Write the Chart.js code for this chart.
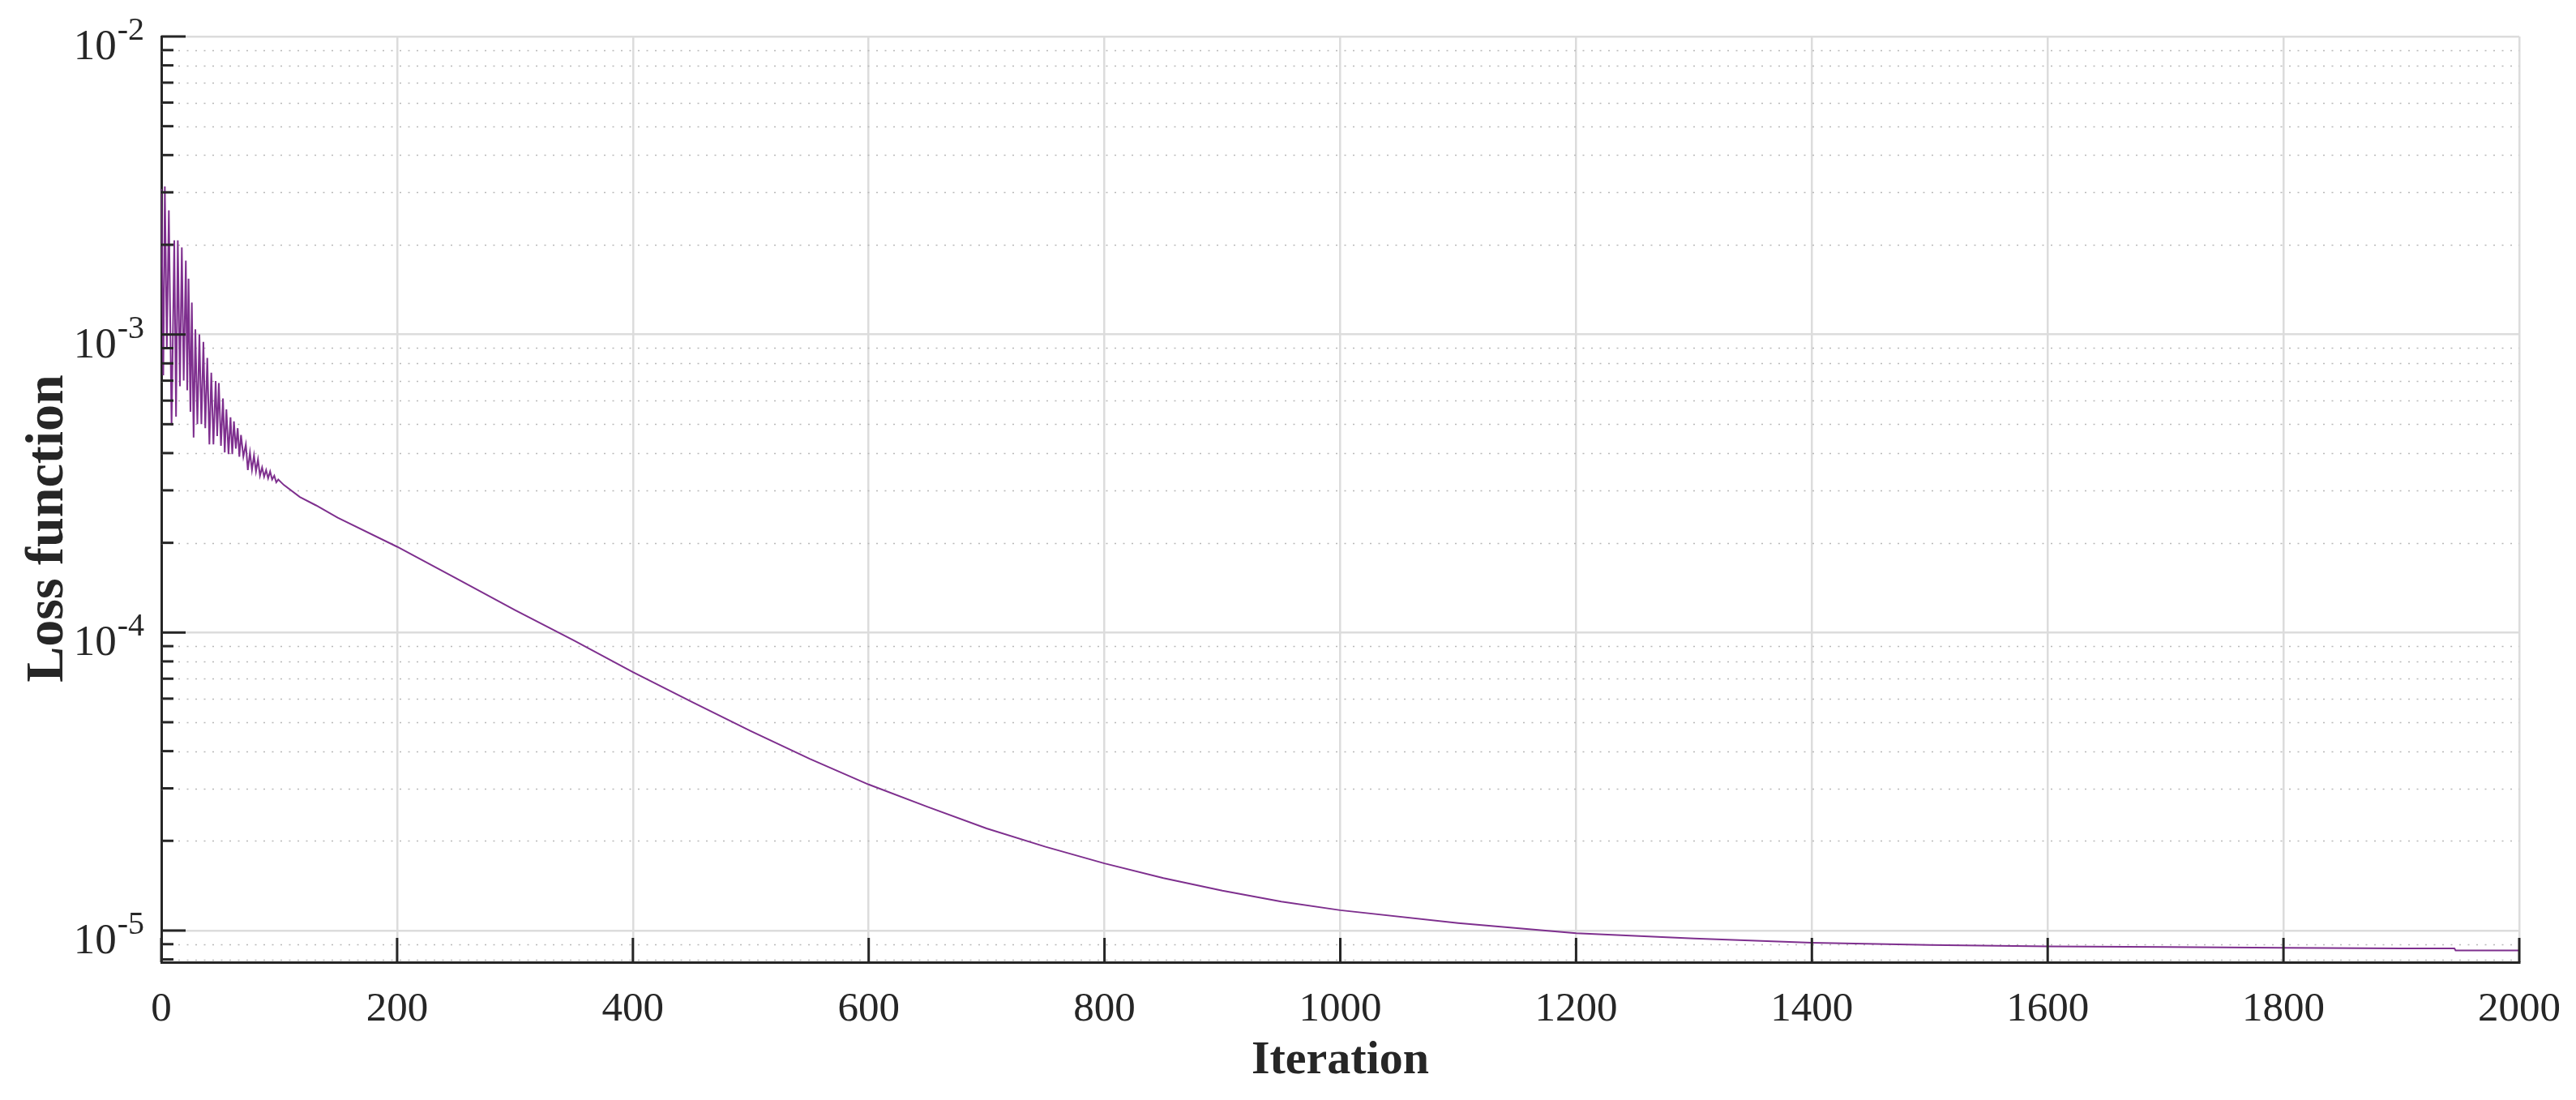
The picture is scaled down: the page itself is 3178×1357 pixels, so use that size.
<!DOCTYPE html>
<html>
<head>
<meta charset="utf-8">
<script src="https://cdn.jsdelivr.net/npm/chart.js@4.4.1/dist/chart.umd.min.js"></script>
<style>
  html, body { margin: 0; padding: 0; background: #fff; }
  #wrap { width: 3178px; height: 1357px; position: relative; }
</style>
</head>
<body>
<div id="wrap"><canvas id="lossChart"></canvas></div>
<script>
// iteration numbers (dense part = oscillation peaks / troughs)
const iterations = [
  0, 1.7, 3.0, 4.7, 6.4, 8.7, 11.0, 12.5, 14.0, 15.8, 17.4, 19.0, 20.8, 22.0, 23.1, 24.7,
  25.9, 27.4, 28.9, 30.6, 32.3, 34.0, 35.7, 37.3, 39.0, 40.8, 42.4, 44.2, 46.1, 47.4, 48.8,
  50.6, 52.3, 53.8, 55.2, 57.0, 58.7, 60.2, 61.6, 63.2, 64.8, 66.2, 67.6, 69.6, 71.7, 73.4,
  75.2, 76.9, 78.6, 80.3, 82.0, 83.7, 85.5, 87.2, 88.9, 90.6, 92.3, 94.0, 95.8, 97.5, 99.2,
  103.8, 117.5, 131.3, 149.6, 200, 250, 300, 350, 400, 450, 500, 550, 600, 650, 700, 750,
  800, 850, 900, 950, 1000, 1100, 1200, 1300, 1400, 1500, 1600, 1700, 1800, 1900, 1945, 1946, 2000
];
const lossValues = [
  3.08e-3, 7.3e-4, 3.14e-3, 9.0e-4, 2.61e-3, 4.95e-4, 2.07e-3, 5.3e-4, 2.07e-3, 6.7e-4, 1.96e-3,
  7.0e-4, 1.77e-3, 6.5e-4, 1.54e-3, 5.5e-4, 1.28e-3, 4.51e-4, 1.04e-3, 5.0e-4, 1.00e-3, 5.0e-4,
  9.45e-4, 4.85e-4, 8.34e-4, 4.28e-4, 7.44e-4, 4.28e-4, 6.98e-4, 4.56e-4, 6.87e-4, 4.23e-4,
  6.10e-4, 4.02e-4, 5.61e-4, 3.97e-4, 5.27e-4, 3.97e-4, 5.11e-4, 4.14e-4, 4.85e-4, 3.89e-4,
  4.60e-4, 3.89e-4, 4.28e-4, 3.51e-4, 4.02e-4, 3.51e-4, 3.93e-4, 3.47e-4, 3.81e-4, 3.36e-4,
  3.58e-4, 3.33e-4, 3.51e-4, 3.29e-4, 3.47e-4, 3.26e-4, 3.36e-4, 3.19e-4, 3.26e-4,
  3.13e-4, 2.85e-4, 2.67e-4, 2.43e-4, 1.94e-4, 1.52e-4, 1.19e-4, 9.4e-5, 7.36e-5, 5.85e-5,
  4.67e-5, 3.77e-5, 3.09e-5, 2.60e-5, 2.20e-5, 1.91e-5, 1.68e-5, 1.50e-5, 1.36e-5, 1.25e-5,
  1.17e-5, 1.06e-5, 9.8e-6, 9.4e-6, 9.1e-6, 8.95e-6, 8.85e-6, 8.8e-6, 8.75e-6, 8.71e-6,
  8.71e-6, 8.57e-6, 8.57e-6
];

const xTicks = [0, 200, 400, 600, 800, 1000, 1200, 1400, 1600, 1800, 2000];
const yMajorTicks = [1e-5, 1e-4, 1e-3, 1e-2];
const yMajorExponents = ['-5', '-4', '-3', '-2'];
const yMinorTicks = [
  8e-6, 9e-6,
  2e-5, 3e-5, 4e-5, 5e-5, 6e-5, 7e-5, 8e-5, 9e-5,
  2e-4, 3e-4, 4e-4, 5e-4, 6e-4, 7e-4, 8e-4, 9e-4,
  2e-3, 3e-3, 4e-3, 5e-3, 6e-3, 7e-3, 8e-3, 9e-3
];
const yMin = 7.83e-6;
const yMax = 1e-2;
const yTitle = 'Loss function';

const axisColor = '#262626';
const serif = "'Liberation Serif', 'Times New Roman', serif";

// minor dotted grid, inward ticks, 10^n labels and the y title
const axesDecor = {
  id: 'axesDecor',
  beforeDatasetsDraw(chart) {
    const { ctx, chartArea: a, scales: { y } } = chart;
    ctx.save();
    ctx.strokeStyle = '#b8b8b8';
    ctx.lineWidth = 1.6;
    ctx.setLineDash([2, 8.5]);
    yMinorTicks.forEach(v => {
      const py = Math.round(y.getPixelForValue(v)) + 0.5;
      ctx.beginPath();
      ctx.moveTo(a.left, py);
      ctx.lineTo(a.right, py);
      ctx.stroke();
    });
    ctx.restore();
  },
  afterDatasetsDraw(chart) {
    const { ctx, chartArea: a, scales: { x, y } } = chart;
    ctx.save();
    ctx.strokeStyle = axisColor;
    ctx.lineWidth = 3;
    yMajorTicks.forEach(v => {
      const py = y.getPixelForValue(v);
      ctx.beginPath(); ctx.moveTo(a.left, py); ctx.lineTo(a.left + 30, py); ctx.stroke();
    });
    yMinorTicks.forEach(v => {
      const py = y.getPixelForValue(v);
      ctx.beginPath(); ctx.moveTo(a.left, py); ctx.lineTo(a.left + 15, py); ctx.stroke();
    });
    xTicks.forEach(v => {
      const px = x.getPixelForValue(v);
      ctx.beginPath(); ctx.moveTo(px, a.bottom); ctx.lineTo(px, a.bottom - 30); ctx.stroke();
    });

    // y tick labels: 10 with a raised exponent
    ctx.fillStyle = axisColor;
    ctx.textBaseline = 'alphabetic';
    const rightEdge = a.left - 21;
    yMajorTicks.forEach((v, i) => {
      const py = y.getPixelForValue(v);
      ctx.font = '40px ' + serif;
      const supW = ctx.measureText(yMajorExponents[i]).width;
      ctx.textAlign = 'left';
      ctx.fillText(yMajorExponents[i], rightEdge - supW, py + 4);
      ctx.font = '53px ' + serif;
      ctx.textAlign = 'right';
      ctx.fillText('10', rightEdge - supW - 1, py + 28);
    });

    // y title, rotated
    ctx.translate(77, (a.top + a.bottom) / 2 + 36);
    ctx.rotate(-Math.PI / 2);
    ctx.font = 'bold 66px ' + serif;
    ctx.textAlign = 'center';
    ctx.fillText(yTitle, 0, 0);
    ctx.restore();
  }
};

const ctx = document.getElementById('lossChart').getContext('2d');
const lossChart = new Chart(ctx, {
  type: 'line',
  data: {
    datasets: [{
      label: yTitle,
      data: iterations.map((it, i) => ({ x: it, y: lossValues[i] })),
      borderColor: '#7E2F8E',
      borderWidth: 2,
      pointRadius: 0,
      tension: 0,
      fill: false
    }]
  },
  options: {
    responsive: true,
    maintainAspectRatio: false,
    devicePixelRatio: 1,
    animation: false,
    layout: { padding: { left: 0, top: 45, right: 70, bottom: 0 } },
    plugins: { legend: { display: false }, tooltip: { enabled: false } },
    scales: {
      x: {
        type: 'linear',
        min: 0,
        max: 2000,
        afterBuildTicks: scale => { scale.ticks = xTicks.map(v => ({ value: v })); },
        afterFit: scale => {
          scale.height = 170;
          scale.paddingLeft = 0;
          scale.paddingRight = 0;
        },
        grid: { color: '#dcdcdc', lineWidth: 2.5, drawTicks: false },
        border: { color: axisColor, width: 3 },
        ticks: {
          color: axisColor,
          font: { family: serif, size: 51 },
          padding: 28,
          maxRotation: 0,
          autoSkip: false,
          callback: v => String(v)
        },
        title: {
          display: true,
          text: 'Iteration',
          color: axisColor,
          font: { family: serif, size: 58, weight: 'bold' },
          padding: { top: 0, bottom: 13 }
        }
      },
      y: {
        type: 'logarithmic',
        min: yMin,
        max: yMax,
        afterBuildTicks: scale => { scale.ticks = yMajorTicks.map(v => ({ value: v })); },
        afterFit: scale => { scale.width = 199; },
        grid: { color: '#dcdcdc', lineWidth: 2.5, drawTicks: false },
        border: { color: axisColor, width: 3 },
        ticks: { display: false },
        title: { display: false }
      }
    }
  },
  plugins: [axesDecor]
});
</script>
</body>
</html>
